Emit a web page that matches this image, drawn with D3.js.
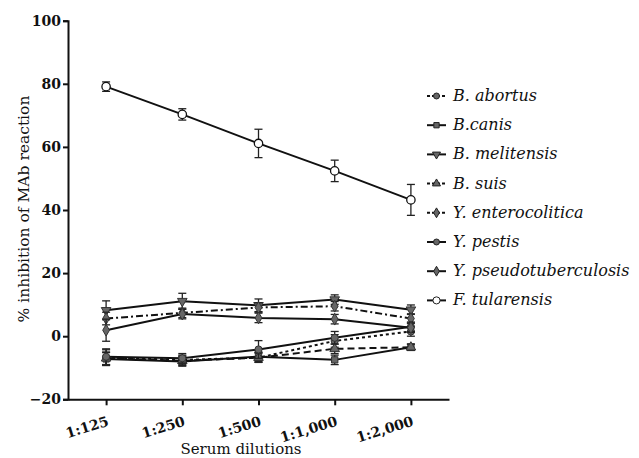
<!DOCTYPE html>
<html lang="en">
<head>
    <meta charset="UTF-8">
    <title>% inhibition of MAb reaction vs serum dilutions</title>
    <script src="https://d3js.org/d3.v7.min.js"></script>
    <style>
        body { margin: 0; background: #fff; }
        svg { display: block; }
    </style>
</head>
<body>
    <div id="chart"></div>

    <script>
        // Data (means and error bar half-widths)
        const dilutions = ["1:125", "1:250", "1:500", "1:1,000", "1:2,000"];
        const yTicks = [-20, 0, 20, 40, 60, 80, 100];

        const seriesNames = ["B. abortus", "B.canis", "B. melitensis", "B. suis",
            "Y. enterocolitica", "Y. pestis", "Y. pseudotuberculosis", "F. tularensis"];

        const abortus = [-6.8, -7.5, -6.8, -1.5, 1.5];
        const abortusErr = [2.5, 1.5, 1.5, 2.0, 1.5];
        const canis = [-7.2, -8.0, -6.5, -7.5, -3.5];
        const canisErr = [2.0, 1.5, 1.5, 1.5, 1.0];
        const melitensis = [8.2, 11.1, 9.8, 11.6, 8.4];
        const melitensisErr = [3.0, 2.5, 2.0, 1.5, 1.5];
        const suis = [-7.0, -7.8, -6.8, -4.0, -3.5];
        const suisErr = [2.0, 1.5, 1.5, 1.5, 1.0];
        const enterocolitica = [5.6, 7.4, 9.1, 9.5, 5.6];
        const enterocoliticaErr = [2.0, 1.5, 1.5, 1.5, 1.5];
        const pestis = [-6.5, -7.0, -4.2, -0.5, 3.0];
        const pestisErr = [2.5, 1.5, 2.8, 2.0, 1.5];
        const pseudotuberculosis = [1.9, 7.0, 5.8, 5.4, 2.7];
        const pseudotuberculosisErr = [3.5, 1.5, 1.5, 1.5, 1.5];
        const tularensis = [79.1, 70.3, 61.1, 52.4, 43.2];
        const tularensisErr = [1.5, 1.8, 4.5, 3.4, 4.9];

        // only serif face that renders here
        const serif = "DejaVu Serif";

        // visual style per series: dash pattern, marker symbol, fill
        const styles = [
            { values: abortus, err: abortusErr, dash: "3,3", symbol: d3.symbolCircle, fill: "#666" },
            { values: canis, err: canisErr, dash: null, symbol: d3.symbolSquare, fill: "#666" },
            { values: melitensis, err: melitensisErr, dash: null, symbol: "triDown", fill: "#666" },
            { values: suis, err: suisErr, dash: "7,4", symbol: d3.symbolTriangle, fill: "#666" },
            { values: enterocolitica, err: enterocoliticaErr, dash: "7,3,2,3", symbol: d3.symbolDiamond, fill: "#666" },
            { values: pestis, err: pestisErr, dash: null, symbol: d3.symbolCircle, fill: "#666" },
            { values: pseudotuberculosis, err: pseudotuberculosisErr, dash: null, symbol: d3.symbolDiamond, fill: "#666" },
            { values: tularensis, err: tularensisErr, dash: null, symbol: d3.symbolCircle, fill: "#fff" }
        ];

        const W = 639, H = 458;
        const svg = d3.select("#chart").append("svg")
            .attr("width", W)
            .attr("height", H);

        const x = d3.scalePoint()
            .domain(dilutions)
            .range([68, 449])
            .padding(0.5);

        const y = d3.scaleLinear()
            .domain([-20, 100])
            .range([399.3, 20.7]);

        function markerPath(sym, size) {
            if (sym === "triDown") {
                return d3.symbol().type(d3.symbolTriangle).size(size)();
            }
            return d3.symbol().type(sym).size(size)();
        }

        // series (tularensis drawn last so it sits on top)
        styles.forEach((s, si) => {
            const g = svg.append("g");
            const pts = s.values.map((v, i) => ({ cat: dilutions[i], v: v, e: s.err[i] }));

            // error bars
            pts.forEach(p => {
                const eb = g.append("g").attr("stroke", "#222").attr("stroke-width", 1.3);
                eb.append("line")
                    .attr("x1", x(p.cat)).attr("x2", x(p.cat))
                    .attr("y1", y(p.v + p.e)).attr("y2", y(p.v - p.e));
                [p.v + p.e, p.v - p.e].forEach(ev => {
                    eb.append("line")
                        .attr("x1", x(p.cat) - 4).attr("x2", x(p.cat) + 4)
                        .attr("y1", y(ev)).attr("y2", y(ev));
                });
            });

            g.append("path")
                .datum(pts)
                .attr("fill", "none")
                .attr("stroke", "#111")
                .attr("stroke-width", 2)
                .attr("stroke-dasharray", s.dash)
                .attr("d", d3.line().x(d => x(d.cat)).y(d => y(d.v)));

            g.selectAll(".m")
                .data(pts)
                .enter()
                .append("path")
                .attr("transform", d => `translate(${x(d.cat)},${y(d.v)})` + (s.symbol === "triDown" ? " rotate(180)" : ""))
                .attr("d", markerPath(s.symbol, si === 7 ? 55 : 40))
                .attr("fill", s.fill)
                .attr("stroke", si === 7 ? "#111" : "#333")
                .attr("stroke-width", si === 7 ? 1.3 : 1);
        });

        // axes
        const yAxis = svg.append("g")
            .attr("transform", "translate(68,0)")
            .call(d3.axisLeft(y).tickValues(yTicks).tickSize(5).tickPadding(2));
        yAxis.attr("font-family", serif).attr("font-weight", "bold");
        yAxis.selectAll("text").attr("font-size", 14).attr("fill", "#111");

        const xAxis = svg.append("g")
            .attr("transform", "translate(0,399.3)")
            .call(d3.axisBottom(x).tickSize(6).tickSizeOuter(0));
        xAxis.attr("font-family", serif).attr("font-weight", "bold");
        xAxis.selectAll("text")
            .attr("font-size", 14)
            .attr("fill", "#111")
            .attr("text-anchor", "end")
            .attr("y", 0)
            .attr("dy", 0)
            .attr("transform", "translate(3,26) rotate(-17)");

        [yAxis, xAxis].forEach(a => {
            a.select(".domain").attr("stroke", "#111").attr("stroke-width", 2);
            a.selectAll(".tick line").attr("stroke", "#111").attr("stroke-width", 2);
        });

        // axis titles
        svg.append("text")
            .attr("transform", "translate(29,209) rotate(-90)")
            .attr("text-anchor", "middle")
            .attr("font-family", serif)
            .attr("font-size", 15.5)
            .attr("fill", "#111")
            .text("% inhibition of MAb reaction");

        svg.append("text")
            .attr("x", 241)
            .attr("y", 454)
            .attr("text-anchor", "middle")
            .attr("font-family", serif)
            .attr("font-size", 15)
            .attr("fill", "#111")
            .text("Serum dilutions");

        // legend
        const legend = svg.append("g").attr("transform", "translate(427,96)");
        seriesNames.forEach((name, i) => {
            const s = styles[i];
            const row = legend.append("g").attr("transform", `translate(0,${i * 29.2})`);
            row.append("line")
                .attr("x1", 0).attr("x2", 19)
                .attr("stroke", "#111").attr("stroke-width", 2)
                .attr("stroke-dasharray", s.dash ? "3,2" : null);
            row.append("path")
                .attr("transform", "translate(9.5,0)" + (s.symbol === "triDown" ? " rotate(180)" : ""))
                .attr("d", markerPath(s.symbol, i === 7 ? 40 : 28))
                .attr("fill", s.fill)
                .attr("stroke", "#222")
                .attr("stroke-width", 1);
            row.append("text")
                .attr("x", 26)
                .attr("y", 5)
                .attr("font-family", serif)
                .attr("font-style", "italic")
                .attr("font-size", 16)
                .attr("fill", "#111")
                .text(name);
        });
    </script>
</body>
</html>
